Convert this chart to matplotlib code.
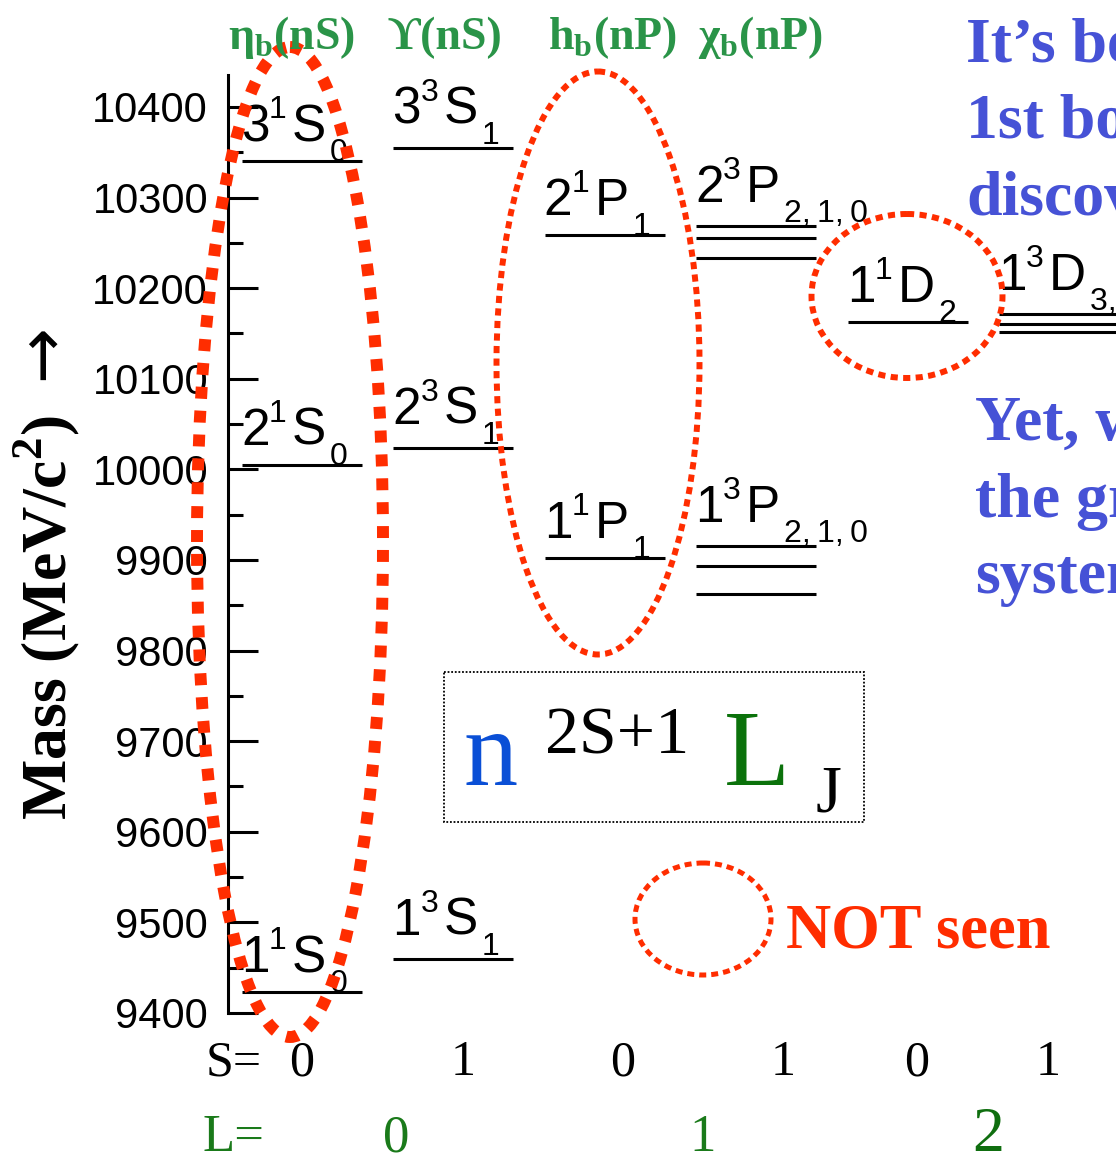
import matplotlib
matplotlib.use("Agg")
import matplotlib.pyplot as plt
from matplotlib.patches import Ellipse, Rectangle

SANS = 'Liberation Sans'
SERIF = 'Liberation Serif'
RED = '#ff2d00'
HEAD_GREEN = '#2a9448'
BLUE = '#4652d6'

# state families shown as column headers
headers = ['η$_\\mathregular{b}$(nS)', 'ϒ(nS)', 'h$_\\mathregular{b}$(nP)', 'χ$_\\mathregular{b}$(nP)']

# multiplets: column, n, 2S+1, L, J and masses in MeV/c^2
level_cols = [0, 0, 0, 1, 1, 1, 2, 2, 3, 3, 4, 5]
level_n = ['3', '2', '1', '3', '2', '1', '2', '1', '2', '1', '1', '1']
level_mult = ['1', '1', '1', '3', '3', '3', '1', '1', '3', '3', '1', '3']
level_L = ['S', 'S', 'S', 'S', 'S', 'S', 'P', 'P', 'P', 'P', 'D', 'D']
level_J = ['0', '0', '0', '1', '1', '1', '1', '1', '2,\u20091,\u20090', '2,\u20091,\u20090',
           '2', '3,\u20092,\u20091']
level_masses = [[10340], [10005], [9423], [10355], [10024], [9460],
                [10259], [9902], [10269, 10255, 10233], [9915, 9893, 9862],
                [10163], [10172, 10161, 10152]]

spin_vals = ['0', '1', '0', '1', '0', '1']
orbital_vals = ['0', '1', '2']

mass_ticks = list(range(9400, 10401, 100))

fig = plt.figure(figsize=(11.16, 11.57), dpi=100, facecolor='white')

# level diagram axes: left spine at x=228px, 9400 at y=1013px, 10400 at y=107px
ax = fig.add_axes([228 / 1116, 1 - 1013 / 1157, 1 - 228 / 1116, (1013 - 75) / 1157])
ax.set_ylim(9400, 9400 + (1013 - 75) / 0.906)
ax.set_xlim((228 - 302) / 151.4, (1116 - 302) / 151.4)
for s in ['top', 'right', 'bottom']:
    ax.spines[s].set_visible(False)
ax.spines['left'].set_linewidth(2.2)
ax.set_xticks([])
ax.set_yticks(mass_ticks)
ax.set_yticks(range(9450, 10400, 100), minor=True)
ax.tick_params(axis='y', which='major', direction='in', length=21.6, width=2.2,
               pad=14.4, labelsize=30)
ax.tick_params(axis='y', which='minor', direction='in', length=10.8, width=2.2)
for lab in ax.get_yticklabels():
    lab.set_fontfamily(SANS)

half = 0.396
letter_adv = {'S': 34, 'P': 34, 'D': 37}


def put(x, y, dx, dy, s, size):
    ax.annotate(s, (x, y), xytext=(dx, dy), textcoords='offset pixels',
                fontsize=size, fontfamily=[SANS, 'DejaVu Sans'], ha='left',
                va='baseline', annotation_clip=False)


for col, n, mult, L, J, masses in zip(level_cols, level_n, level_mult, level_L,
                                      level_J, level_masses):
    for m in masses:
        ax.plot([col - half, col + half], [m, m], color='black', lw=2.2,
                solid_capstyle='butt')
    x0, top = col - half, max(masses)
    base = 24 if mult == '3' else 20
    put(x0, top, -1, base, n, 37)
    put(x0, top, 27, base + 23, mult, 23)
    put(x0, top, 50, base, L, 37)
    put(x0, top, 50 + letter_adv[L] + 4, base - 20, J, 23)

# overlay in pixel coordinates for the annotations
ov = fig.add_axes([0, 0, 1, 1], zorder=5)
ov.set_xlim(0, 1116)
ov.set_ylim(1157, 0)
ov.axis('off')
ov.patch.set_alpha(0)

for x, h in zip([228, 388, 548, 698], headers):
    ov.text(x, 49, h, fontsize=33, fontfamily=[SERIF, 'DejaVu Serif'],
            fontweight='bold', color=HEAD_GREEN, ha='left', va='baseline')

# dotted ellipses
ov.add_patch(Ellipse((290, 542), 186, 990, fill=False, ec=RED, lw=8.6,
                     ls=(0, (1, 1)), capstyle='butt'))
ov.add_patch(Ellipse((598, 363), 203, 583, fill=False, ec=RED, lw=4.3,
                     ls=(0, (1.2, 0.9)), capstyle='butt'))
ov.add_patch(Ellipse((907, 296), 191, 164, fill=False, ec=RED, lw=4.3,
                     ls=(0, (1.2, 0.9)), capstyle='butt'))
ov.add_patch(Ellipse((703, 919), 136, 112, fill=False, ec=RED, lw=3.6,
                     ls=(0, (1.4, 1.0)), capstyle='butt'))
ov.text(786, 948, 'NOT seen', fontsize=45, fontfamily=SERIF, fontweight='bold',
        color=RED, ha='left', va='baseline')

# n^{2S+1}L_J box
ov.add_patch(Rectangle((444, 672), 420, 150, fill=False, ec='black', lw=1.3,
                       ls=(0, (1, 1))))
ov.text(463, 785, 'n', fontsize=78, fontfamily=SERIF, color='#0a4fd6', va='baseline')
ov.text(545, 753, '2S+1', fontsize=49, fontfamily=SERIF, color='black', va='baseline')
ov.text(724, 785, 'L', fontsize=78, fontfamily=SERIF, color='#0b720b', va='baseline')
ov.text(816, 812, 'J', fontsize=48, fontfamily=SERIF, color='black', va='baseline')

# blue comments on the right, cut by the slide edge
for y, t in zip([62, 138, 215], ['It’s be', '1st bo', 'discov']):
    ov.text(966, y, t, fontsize=46, fontfamily=SERIF, fontweight='bold',
            color=BLUE, va='baseline')
for y, t in zip([440, 517, 593], ['Yet, w', 'the gr', 'system']):
    ov.text(975, y, t, fontsize=46, fontfamily=SERIF, fontweight='bold',
            color=BLUE, va='baseline')

# y label
ov.text(47, 617, 'Mass (MeV/c$^\\mathregular{2}$)', fontsize=46, fontfamily=SERIF,
        fontweight='bold', rotation=90, ha='center', va='center')
ov.text(42, 352, '→', fontsize=48, fontfamily='DejaVu Sans', rotation=90,
        ha='center', va='center')

# S and L rows
ov.text(206, 1075, 'S=', fontsize=36, fontfamily=SERIF, va='baseline')
for x, s in zip([302, 463, 623, 783, 917, 1048], spin_vals):
    ov.text(x, 1075, s, fontsize=36, fontfamily=SERIF, ha='center', va='baseline')
ov.text(203, 1151, 'L=', fontsize=38, fontfamily=SERIF, color='#1a7a1a', va='baseline')
for x, l, fs, c in zip([396, 703, 988], orbital_vals, [38, 38, 46],
                       ['#1a7a1a', '#1a7a1a', '#0f6e0f']):
    ov.text(x, 1151, l, fontsize=fs, fontfamily=SERIF, color=c,
            ha='center', va='baseline')

fig.savefig('out.png', dpi=100, facecolor='white')
